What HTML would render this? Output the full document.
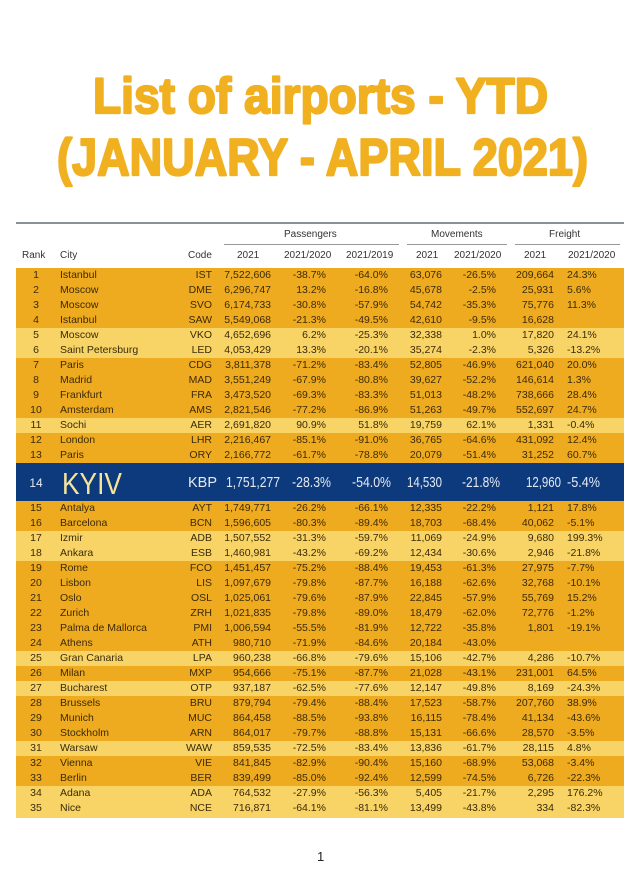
<!DOCTYPE html>
<html><head><meta charset="utf-8"><style>
body{margin:0;width:640px;height:878px;background:#fff;position:relative;overflow:hidden;font-family:"Liberation Sans",Arial,sans-serif;}
.r{position:absolute;left:16px;width:608px;height:15px;font-size:10.5px;color:#3b2a08;line-height:15px;}
.d{background:#efab1f;}.l{background:#f8d466;}
.r span{position:absolute;top:0;white-space:nowrap;}
.r span:nth-child(1){left:5px;width:30px;text-align:center}
.r span:nth-child(2){left:44px}
.r span:nth-child(3){left:154px;width:42px;text-align:right}
.r span:nth-child(4){left:204px;width:51px;text-align:right}
.r span:nth-child(5){left:264px;width:46px;text-align:right}
.r span:nth-child(6){left:324px;width:48px;text-align:right}
.r span:nth-child(7){left:384px;width:42px;text-align:right}
.r span:nth-child(8){left:434px;width:46px;text-align:right}
.r span:nth-child(9){left:489px;width:49px;text-align:right}
.r span:nth-child(10){left:551px}
.h{position:absolute;font-size:10px;color:#333;white-space:nowrap}
</style></head><body>
<svg width="640" height="200" style="position:absolute;left:0;top:0">
<text x="93" y="113" textLength="455" lengthAdjust="spacingAndGlyphs" style="font-family:'Liberation Sans','DejaVu Sans',sans-serif;font-weight:700;font-size:50px" fill="#f0b020" stroke="#f0b020" stroke-width="2.2" stroke-linejoin="round">List of airports - YTD</text>
<text x="57" y="175" textLength="531" lengthAdjust="spacingAndGlyphs" style="font-family:'Liberation Sans','DejaVu Sans',sans-serif;font-weight:700;font-size:52px" fill="#f0b020" stroke="#f0b020" stroke-width="2.2" stroke-linejoin="round">(JANUARY - APRIL 2021)</text>
</svg>
<div style="position:absolute;left:16px;top:222px;width:608px;height:2px;background:#8a9099"></div>
<div style="position:absolute;left:224px;top:244px;width:175px;height:1px;background:#999"></div>
<div style="position:absolute;left:407px;top:244px;width:100px;height:1px;background:#999"></div>
<div style="position:absolute;left:515px;top:244px;width:105px;height:1px;background:#999"></div>
<div class="h" style="left:284px;top:229px">Passengers</div>
<div class="h" style="left:431px;top:229px">Movements</div>
<div class="h" style="left:549px;top:229px">Freight</div>
<div class="h" style="left:22px;top:250px">Rank</div>
<div class="h" style="left:60px;top:250px">City</div>
<div class="h" style="left:188px;top:250px">Code</div>
<div class="h" style="left:237px;top:250px">2021</div>
<div class="h" style="left:284px;top:250px">2021/2020</div>
<div class="h" style="left:346px;top:250px">2021/2019</div>
<div class="h" style="left:416px;top:250px">2021</div>
<div class="h" style="left:454px;top:250px">2021/2020</div>
<div class="h" style="left:524px;top:250px">2021</div>
<div class="h" style="left:568px;top:250px">2021/2020</div>

<div class="r d" style="top:268px"><span>1</span><span>Istanbul</span><span>IST</span><span>7,522,606</span><span>-38.7%</span><span>-64.0%</span><span>63,076</span><span>-26.5%</span><span>209,664</span><span>24.3%</span></div>
<div class="r d" style="top:283px"><span>2</span><span>Moscow</span><span>DME</span><span>6,296,747</span><span>13.2%</span><span>-16.8%</span><span>45,678</span><span>-2.5%</span><span>25,931</span><span>5.6%</span></div>
<div class="r d" style="top:298px"><span>3</span><span>Moscow</span><span>SVO</span><span>6,174,733</span><span>-30.8%</span><span>-57.9%</span><span>54,742</span><span>-35.3%</span><span>75,776</span><span>11.3%</span></div>
<div class="r d" style="top:313px"><span>4</span><span>Istanbul</span><span>SAW</span><span>5,549,068</span><span>-21.3%</span><span>-49.5%</span><span>42,610</span><span>-9.5%</span><span>16,628</span><span></span></div>
<div class="r l" style="top:328px"><span>5</span><span>Moscow</span><span>VKO</span><span>4,652,696</span><span>6.2%</span><span>-25.3%</span><span>32,338</span><span>1.0%</span><span>17,820</span><span>24.1%</span></div>
<div class="r l" style="top:343px"><span>6</span><span>Saint Petersburg</span><span>LED</span><span>4,053,429</span><span>13.3%</span><span>-20.1%</span><span>35,274</span><span>-2.3%</span><span>5,326</span><span>-13.2%</span></div>
<div class="r d" style="top:358px"><span>7</span><span>Paris</span><span>CDG</span><span>3,811,378</span><span>-71.2%</span><span>-83.4%</span><span>52,805</span><span>-46.9%</span><span>621,040</span><span>20.0%</span></div>
<div class="r d" style="top:373px"><span>8</span><span>Madrid</span><span>MAD</span><span>3,551,249</span><span>-67.9%</span><span>-80.8%</span><span>39,627</span><span>-52.2%</span><span>146,614</span><span>1.3%</span></div>
<div class="r d" style="top:388px"><span>9</span><span>Frankfurt</span><span>FRA</span><span>3,473,520</span><span>-69.3%</span><span>-83.3%</span><span>51,013</span><span>-48.2%</span><span>738,666</span><span>28.4%</span></div>
<div class="r d" style="top:403px"><span>10</span><span>Amsterdam</span><span>AMS</span><span>2,821,546</span><span>-77.2%</span><span>-86.9%</span><span>51,263</span><span>-49.7%</span><span>552,697</span><span>24.7%</span></div>
<div class="r l" style="top:418px"><span>11</span><span>Sochi</span><span>AER</span><span>2,691,820</span><span>90.9%</span><span>51.8%</span><span>19,759</span><span>62.1%</span><span>1,331</span><span>-0.4%</span></div>
<div class="r d" style="top:433px"><span>12</span><span>London</span><span>LHR</span><span>2,216,467</span><span>-85.1%</span><span>-91.0%</span><span>36,765</span><span>-64.6%</span><span>431,092</span><span>12.4%</span></div>
<div class="r d" style="top:448px;height:15px"><span>13</span><span>Paris</span><span>ORY</span><span>2,166,772</span><span>-61.7%</span><span>-78.8%</span><span>20,079</span><span>-51.4%</span><span>31,252</span><span>60.7%</span></div>

<svg width="608" height="38" style="position:absolute;left:16px;top:463px;background:#0d3a7c" font-family="Liberation Sans, sans-serif" fill="#e3e9f2">
<text x="20" y="24" font-size="12" text-anchor="middle">14</text>
<text x="46" y="31" font-size="31" fill="#f6e49a" textLength="60" lengthAdjust="spacingAndGlyphs">KYIV</text>
<text x="172" y="24" font-size="15" textLength="29" lengthAdjust="spacingAndGlyphs">KBP</text>
<text x="210" y="24" font-size="15" textLength="54" lengthAdjust="spacingAndGlyphs">1,751,277</text>
<text x="276" y="24" font-size="15" textLength="39" lengthAdjust="spacingAndGlyphs">-28.3%</text>
<text x="336" y="24" font-size="15" textLength="39" lengthAdjust="spacingAndGlyphs">-54.0%</text>
<text x="391" y="24" font-size="15" textLength="35" lengthAdjust="spacingAndGlyphs">14,530</text>
<text x="446" y="24" font-size="15" textLength="38" lengthAdjust="spacingAndGlyphs">-21.8%</text>
<text x="510" y="24" font-size="15" textLength="35" lengthAdjust="spacingAndGlyphs">12,960</text>
<text x="551" y="24" font-size="15" textLength="33" lengthAdjust="spacingAndGlyphs">-5.4%</text>
</svg>

<div class="r d" style="top:501px"><span>15</span><span>Antalya</span><span>AYT</span><span>1,749,771</span><span>-26.2%</span><span>-66.1%</span><span>12,335</span><span>-22.2%</span><span>1,121</span><span>17.8%</span></div>
<div class="r d" style="top:516px"><span>16</span><span>Barcelona</span><span>BCN</span><span>1,596,605</span><span>-80.3%</span><span>-89.4%</span><span>18,703</span><span>-68.4%</span><span>40,062</span><span>-5.1%</span></div>
<div class="r l" style="top:531px"><span>17</span><span>Izmir</span><span>ADB</span><span>1,507,552</span><span>-31.3%</span><span>-59.7%</span><span>11,069</span><span>-24.9%</span><span>9,680</span><span>199.3%</span></div>
<div class="r l" style="top:546px"><span>18</span><span>Ankara</span><span>ESB</span><span>1,460,981</span><span>-43.2%</span><span>-69.2%</span><span>12,434</span><span>-30.6%</span><span>2,946</span><span>-21.8%</span></div>
<div class="r d" style="top:561px"><span>19</span><span>Rome</span><span>FCO</span><span>1,451,457</span><span>-75.2%</span><span>-88.4%</span><span>19,453</span><span>-61.3%</span><span>27,975</span><span>-7.7%</span></div>
<div class="r d" style="top:576px"><span>20</span><span>Lisbon</span><span>LIS</span><span>1,097,679</span><span>-79.8%</span><span>-87.7%</span><span>16,188</span><span>-62.6%</span><span>32,768</span><span>-10.1%</span></div>
<div class="r d" style="top:591px"><span>21</span><span>Oslo</span><span>OSL</span><span>1,025,061</span><span>-79.6%</span><span>-87.9%</span><span>22,845</span><span>-57.9%</span><span>55,769</span><span>15.2%</span></div>
<div class="r d" style="top:606px"><span>22</span><span>Zurich</span><span>ZRH</span><span>1,021,835</span><span>-79.8%</span><span>-89.0%</span><span>18,479</span><span>-62.0%</span><span>72,776</span><span>-1.2%</span></div>
<div class="r d" style="top:621px"><span>23</span><span>Palma de Mallorca</span><span>PMI</span><span>1,006,594</span><span>-55.5%</span><span>-81.9%</span><span>12,722</span><span>-35.8%</span><span>1,801</span><span>-19.1%</span></div>
<div class="r d" style="top:636px"><span>24</span><span>Athens</span><span>ATH</span><span>980,710</span><span>-71.9%</span><span>-84.6%</span><span>20,184</span><span>-43.0%</span><span></span><span></span></div>
<div class="r l" style="top:651px"><span>25</span><span>Gran Canaria</span><span>LPA</span><span>960,238</span><span>-66.8%</span><span>-79.6%</span><span>15,106</span><span>-42.7%</span><span>4,286</span><span>-10.7%</span></div>
<div class="r d" style="top:666px"><span>26</span><span>Milan</span><span>MXP</span><span>954,666</span><span>-75.1%</span><span>-87.7%</span><span>21,028</span><span>-43.1%</span><span>231,001</span><span>64.5%</span></div>
<div class="r l" style="top:681px"><span>27</span><span>Bucharest</span><span>OTP</span><span>937,187</span><span>-62.5%</span><span>-77.6%</span><span>12,147</span><span>-49.8%</span><span>8,169</span><span>-24.3%</span></div>
<div class="r d" style="top:696px"><span>28</span><span>Brussels</span><span>BRU</span><span>879,794</span><span>-79.4%</span><span>-88.4%</span><span>17,523</span><span>-58.7%</span><span>207,760</span><span>38.9%</span></div>
<div class="r d" style="top:711px"><span>29</span><span>Munich</span><span>MUC</span><span>864,458</span><span>-88.5%</span><span>-93.8%</span><span>16,115</span><span>-78.4%</span><span>41,134</span><span>-43.6%</span></div>
<div class="r d" style="top:726px"><span>30</span><span>Stockholm</span><span>ARN</span><span>864,017</span><span>-79.7%</span><span>-88.8%</span><span>15,131</span><span>-66.6%</span><span>28,570</span><span>-3.5%</span></div>
<div class="r l" style="top:741px"><span>31</span><span>Warsaw</span><span>WAW</span><span>859,535</span><span>-72.5%</span><span>-83.4%</span><span>13,836</span><span>-61.7%</span><span>28,115</span><span>4.8%</span></div>
<div class="r d" style="top:756px"><span>32</span><span>Vienna</span><span>VIE</span><span>841,845</span><span>-82.9%</span><span>-90.4%</span><span>15,160</span><span>-68.9%</span><span>53,068</span><span>-3.4%</span></div>
<div class="r d" style="top:771px"><span>33</span><span>Berlin</span><span>BER</span><span>839,499</span><span>-85.0%</span><span>-92.4%</span><span>12,599</span><span>-74.5%</span><span>6,726</span><span>-22.3%</span></div>
<div class="r l" style="top:786px"><span>34</span><span>Adana</span><span>ADA</span><span>764,532</span><span>-27.9%</span><span>-56.3%</span><span>5,405</span><span>-21.7%</span><span>2,295</span><span>176.2%</span></div>
<div class="r l" style="top:801px;height:17px"><span>35</span><span>Nice</span><span>NCE</span><span>716,871</span><span>-64.1%</span><span>-81.1%</span><span>13,499</span><span>-43.8%</span><span>334</span><span>-82.3%</span></div>

<div style="position:absolute;left:317px;top:849px;font-size:13px;color:#222">1</div>
</body></html>
